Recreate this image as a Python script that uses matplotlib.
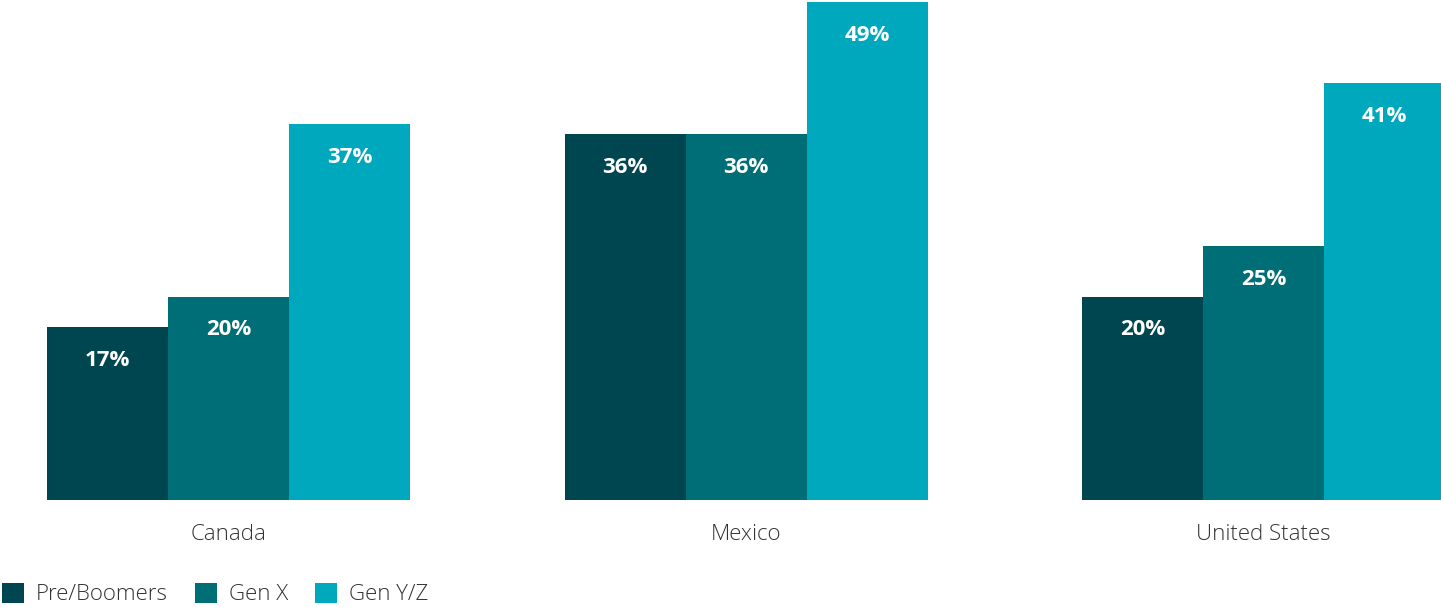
import numpy as np
import matplotlib
matplotlib.use('Agg')
from matplotlib import pyplot as plt
from matplotlib.patches import Patch

plt.rcParams['font.family'] = ['Open Sans', 'DejaVu Sans']

countries = ['Canada', 'Mexico', 'United States']
generations = ['Pre/Boomers', 'Gen X', 'Gen Y/Z']
values = {
    'Pre/Boomers': [17, 36, 20],
    'Gen X': [20, 36, 25],
    'Gen Y/Z': [37, 49, 41],
}
colors = ['#004650', '#006E77', '#00A8BD']

W, H = 1441, 607
fig = plt.figure(figsize=(W / 100, H / 100), dpi=100)
ax = fig.add_axes([0, 1 - 500 / H, 1, 500 / H])

x = np.arange(len(countries))
width = 121 / 517.5
for i, g in enumerate(generations):
    pos = x + (i - 1) * width
    bars = ax.bar(pos, values[g], width, color=colors[i], linewidth=0)
    for b, v in zip(bars, values[g]):
        ax.annotate(f'{v}%', (b.get_x() + b.get_width() / 2, v),
                    xytext=(0, -33), textcoords='offset pixels',
                    ha='center', va='center', color='white',
                    fontsize=16, fontweight='bold')

ax.set_xlim(-228.5 / 517.5, (W - 228.5) / 517.5)
ax.set_ylim(0, 500 / 10.16)
ax.axis('off')

# category names under each group
for xi, c in zip(x, countries):
    ax.annotate(c, (xi, 0), xytext=(0, -35), textcoords='offset pixels',
                ha='center', va='center', fontsize=16, color='#333333',
                fontweight='light')

handles = [Patch(facecolor=c, edgecolor='none') for c in colors]
fig.legend(handles, generations, loc='center left',
           bbox_to_anchor=(2 / W, 1 - 594 / H), ncol=3, frameon=False,
           prop={'size': 16, 'weight': 'light'}, labelcolor='#333333',
           handlelength=1.0, handleheight=1.0, handletextpad=0.54,
           columnspacing=1.2, borderpad=0, borderaxespad=0)

fig.savefig('out.png', dpi=100)
